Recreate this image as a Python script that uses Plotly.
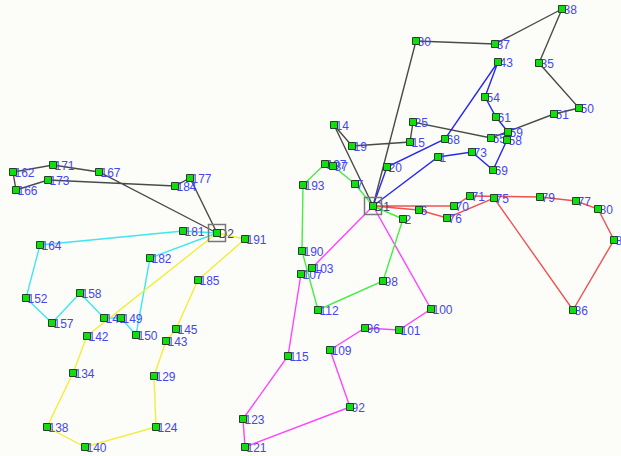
import plotly.graph_objects as go

# Node labels and positions
node_labels = ["D1", "D2", "162", "171", "167", "166", "173", "184", "177", "181", "191", "164",
               "182", "185", "158", "152", "148", "149", "157", "145", "142", "150", "143", "134",
               "129", "138", "124", "140", "123", "121", "190", "103", "107", "98", "112", "100",
               "101", "96", "109", "115", "92", "193", "197", "87", "7", "2", "14", "19", "15",
               "25", "20", "68", "1", "73", "69", "65", "59", "58", "61", "54", "43", "30", "37",
               "38", "35", "51", "50", "6", "76", "70", "71", "75", "79", "77", "80", "8", "86"]
node_x = [373, 217, 13, 53, 99, 16, 48, 175, 190, 183, 245, 40,
          150, 198, 80, 26, 104, 121, 52, 176, 87, 136, 166, 73,
          154, 47, 156, 85, 243, 245, 302, 312, 301, 383, 318, 431,
          399, 365, 330, 288, 350, 303, 325, 333, 355, 403, 334, 352, 410,
          413, 387, 445, 438, 472, 493, 491, 508, 507, 496, 485, 498, 416, 495,
          562, 539, 554, 579, 419, 447, 454, 470, 494, 540, 576, 598, 614, 573]
node_y = [206, 233, 172, 165, 172, 190, 180, 186, 178, 231, 239, 245,
          258, 280, 293, 298, 318, 318, 323, 329, 336, 335, 341, 373,
          376, 427, 427, 447, 419, 447, 251, 268, 274, 281, 310, 309,
          330, 328, 350, 356, 407, 185, 164, 166, 184, 219, 125, 146, 142,
          122, 167, 139, 157, 152, 170, 138, 132, 140, 117, 97, 62, 41, 44,
          9, 63, 114, 108, 210, 218, 206, 196, 198, 197, 201, 209, 240, 310]

# Routes (sequences of node labels)
route_names = ["D2 route 1", "D2 route 2", "D2 route 3", "D1 route 1", "D1 route 2",
               "D1 route 3", "D1 route 4", "D1 route 5"]
route_colors = ["#4a4a4a", "#40e6f0", "#f2ee3a", "#ff44ff", "#44ee44", "#4a4a4a", "#2a2aee", "#f05050"]
routes = [
    ["D2", "167", "171", "162", "166", "173", "184", "177", "D2"],
    ["D2", "181", "164", "152", "157", "158", "148", "149", "150", "182", "D2"],
    ["D2", "191", "185", "145", "143", "129", "124", "140", "138", "134", "142", "D2"],
    ["D1", "100", "101", "96", "109", "92", "121", "123", "115", "107", "103", "D1"],
    ["D1", "2", "98", "112", "190", "193", "197", "87", "7", "D1"],
    ["D1", "14", "19", "15", "25", "65", "51", "50", "35", "38", "37", "30", "D1"],
    ["D1", "20", "68", "43", "54", "61", "59", "58", "69", "73", "1", "D1"],
    ["D1", "6", "76", "75", "86", "8", "80", "77", "79", "71", "70", "D1"],
]
depots = ["D1", "D2"]

pos = {n: (x, y) for n, x, y in zip(node_labels, node_x, node_y)}

fig = go.Figure()

for name, color, r in zip(route_names, route_colors, routes):
    fig.add_trace(go.Scatter(
        x=[pos[n][0] for n in r], y=[pos[n][1] for n in r],
        mode="lines", line=dict(color=color, width=1.4), name=name,
        hoverinfo="skip", showlegend=False))

# labels (drawn under the markers)
cust = [n for n in node_labels if n not in depots]
fig.add_trace(go.Scatter(
    x=[pos[n][0] + 1.5 for n in cust], y=[pos[n][1] + 1.5 for n in cust],
    mode="text", text=cust, textposition="middle right",
    textfont=dict(family="Liberation Sans, Arial, sans-serif", size=12, color="#4646f0"),
    showlegend=False, hoverinfo="skip", cliponaxis=False))
fig.add_trace(go.Scatter(
    x=[pos[n][0] + 1.5 for n in depots], y=[pos[n][1] + 1.5 for n in depots],
    mode="text", text=depots, textposition="middle right",
    textfont=dict(family="Liberation Sans, Arial, sans-serif", size=12, color="#444466"),
    showlegend=False, hoverinfo="skip"))

# depot boxes
fig.add_trace(go.Scatter(
    x=[pos[n][0] for n in depots], y=[pos[n][1] for n in depots],
    mode="markers", marker=dict(symbol="square-open", size=17,
                                line=dict(color="#777777", width=1.5), color="#777777"),
    showlegend=False, hoverinfo="skip"))

# node markers
fig.add_trace(go.Scatter(
    x=node_x, y=node_y, mode="markers", text=node_labels, hoverinfo="text",
    marker=dict(symbol="square", size=7, color="#11dd11",
                line=dict(color="#224422", width=1)),
    showlegend=False, cliponaxis=False))

fig.update_layout(
    width=621, height=456,
    margin=dict(l=0, r=0, t=0, b=0),
    paper_bgcolor="#fcfcf9", plot_bgcolor="#fcfcf9",
    xaxis=dict(range=[0, 621], visible=False, fixedrange=True),
    yaxis=dict(range=[456, 0], visible=False, fixedrange=True),
)

# remove the page's default body margin so the figure fills the window
fig.write_html("out.html", config={"displayModeBar": False},
               post_script="document.body.style.margin='0px';document.body.style.overflow='hidden';")
